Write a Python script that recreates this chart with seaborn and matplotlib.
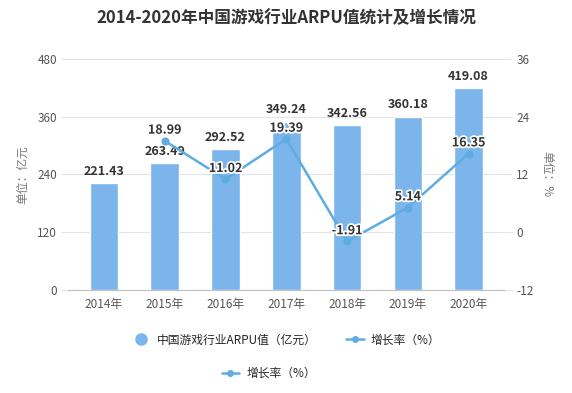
import seaborn as sns
import pandas as pd
import matplotlib.pyplot as plt
import matplotlib.patheffects as pe
from matplotlib.lines import Line2D

years = ['2014年', '2015年', '2016年', '2017年', '2018年', '2019年', '2020年']
arpu = [221.43, 263.49, 292.52, 349.24, 342.56, 360.18, 419.08]
growth_years = ['2015年', '2016年', '2017年', '2018年', '2019年', '2020年']
growth = [18.99, 11.02, 19.39, -1.91, 5.14, 16.35]

bar_color = '#7cb5ec'
line_color = '#5dade2'

sns.set_style('white')
plt.rcParams['font.family'] = ['Noto Sans CJK SC', 'DejaVu Sans']
plt.rcParams['axes.unicode_minus'] = False

df = pd.DataFrame({'year': years, 'arpu': arpu})
dg = pd.DataFrame({'year': growth_years, 'growth': growth})

fig = plt.figure(figsize=(5.72, 3.93), dpi=100)
ax = fig.add_axes([0.119, 0.262, 0.764, 0.588])
sns.barplot(data=df, x='year', y='arpu', order=years, color=bar_color,
            width=0.47, saturation=1, ax=ax)
ax.set_ylim(0, 480)
ax.set_yticks([0, 120, 240, 360, 480])
ax.set_xlim(-0.59, 6.6)
ax.grid(axis='y', color='#e3e3e3', linewidth=0.8)
ax.set_axisbelow(True)
for s in ['top', 'right', 'left']:
    ax.spines[s].set_visible(False)
ax.spines['bottom'].set_color('#c0c0c0')
ax.tick_params(axis='x', length=4, color='#c0c0c0', labelsize=8.5, labelcolor='#555555', pad=2)
ax.tick_params(axis='y', length=5, color='#e3e3e3', labelsize=8.5, labelcolor='#555555', pad=3)
ax.set_xlabel('')
ax.set_ylabel('单位：亿元', fontsize=8.5, color='#777777', labelpad=6)
for i, v in enumerate(arpu):
    ax.annotate(f'{v:.2f}', (i, v), xytext=(0, 4), textcoords='offset points',
                ha='center', va='bottom', fontsize=9, fontweight='bold', color='#333333')

ax2 = ax.twinx()
sns.pointplot(data=dg, x='year', y='growth', order=years, color=line_color,
              markers='o', markersize=4.5, linewidth=1.8, ax=ax2)
ax2.set_ylim(-12, 36)
ax2.set_yticks([-12, 0, 12, 24, 36])
ax2.set_xlim(-0.59, 6.6)
for s in ['top', 'right', 'left', 'bottom']:
    ax2.spines[s].set_visible(False)
ax2.tick_params(axis='y', length=5, color='#e3e3e3', labelsize=8.5, labelcolor='#555555', pad=3)
ax2.set_xlabel('')
ax2.set_ylabel('单位：%', fontsize=8.5, color='#777777', rotation=270, labelpad=14)
for yr, v in zip(growth_years, growth):
    ax2.annotate(f'{v:.2f}', (years.index(yr), v), xytext=(0, 3), textcoords='offset points',
                 ha='center', va='bottom', fontsize=9, fontweight='bold', color='#333333',
                 path_effects=[pe.withStroke(linewidth=2.5, foreground='white')])

fig.suptitle('2014-2020年中国游戏行业ARPU值统计及增长情况', x=0.5, y=0.978,
             fontsize=12, fontweight='bold', color='#333333')

h_bar = Line2D([], [], marker='o', linestyle='none', markersize=8, color=bar_color)
h_line = Line2D([], [], marker='o', markersize=4, linewidth=1.8, color=line_color)
fig.legend([h_bar, h_line], ['中国游戏行业ARPU值（亿元）', '增长率（%）'],
           loc='center', bbox_to_anchor=(0.5, 0.135), ncol=2, frameon=False,
           fontsize=8.5, handlelength=1.5, columnspacing=2.5, handletextpad=0.6)
fig.legend([h_line], ['增长率（%）'], loc='center', bbox_to_anchor=(0.47, 0.05),
           frameon=False, fontsize=8.5, handlelength=1.5, handletextpad=0.6)

plt.savefig('out.png', dpi=100)
